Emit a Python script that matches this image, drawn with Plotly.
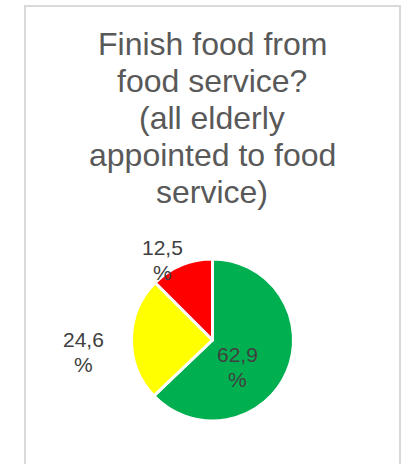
import plotly.graph_objects as go

# Survey answers, share of respondents (%)
categories = ["Yes", "Partly", "No"]
values = [62.9, 24.6, 12.5]
colors = ["#00B050", "#FFFF00", "#FF0000"]

title_lines = [
    "Finish food from",
    "food service?",
    "(all elderly",
    "appointed to food",
    "service)",
]

W, H = 401, 464
FONT = "Liberation Sans, Arial, sans-serif"
GREY = "#595959"

# pie geometry in pixels
cx, cy, r = 212.5, 340.0, 81.0

fig = go.Figure(
    go.Pie(
        labels=categories,
        values=values,
        marker=dict(colors=colors, line=dict(color="white", width=3)),
        sort=False,
        direction="clockwise",
        rotation=0,
        textinfo="none",
        hoverinfo="label+percent",
        showlegend=False,
        domain=dict(
            x=[(cx - r) / W, (cx + r) / W],
            y=[(H - cy - r) / H, (H - cy + r) / H],
        ),
    )
)

annotations = []

# title, one annotation per line for tight line spacing
title_baselines = [55, 92, 129, 166, 203]
for line, base in zip(title_lines, title_baselines):
    annotations.append(dict(
        text=line, x=212 / W, y=1 - base / H, xref="paper", yref="paper",
        xanchor="center", yanchor="bottom", yshift=-9, showarrow=False,
        font=dict(family=FONT, size=32, color=GREY),
    ))

# data labels (decimal comma)
label_pos = [(237, 363), (83, 348), (162, 256)]
for v, (lx, ly) in zip(values, label_pos):
    txt = f"{v:.1f}".replace(".", ",")
    for i, part in enumerate([txt, "%"]):
        annotations.append(dict(
            text=part, x=lx / W, y=1 - (ly + 24.5 * i) / H,
            xref="paper", yref="paper", xanchor="center", yanchor="bottom",
            yshift=-5, showarrow=False,
            font=dict(family=FONT, size=21, color="#404040"),
        ))

fig.update_layout(
    width=W, height=H,
    margin=dict(l=0, r=0, t=0, b=0),
    paper_bgcolor="white",
    plot_bgcolor="white",
    annotations=annotations,
    shapes=[dict(
        type="rect", xref="paper", yref="paper",
        x0=25 / W, x1=400 / W, y0=-0.05, y1=1 - 6 / H,
        line=dict(color="#D9D9D9", width=2), fillcolor="rgba(0,0,0,0)",
        layer="below",
    )],
)

fig.write_html("out.html")
